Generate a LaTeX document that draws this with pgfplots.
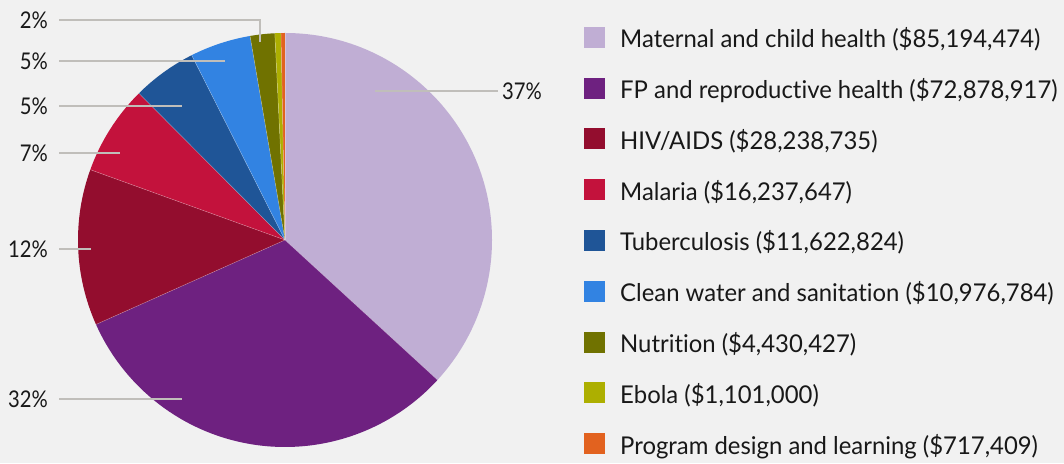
\documentclass[border=0pt]{standalone}
\usepackage{fontspec}
\setmainfont{Lato}[Ligatures=NoCommon]
\newfontfamily\legfont{Lato}[FakeStretch=0.975, Ligatures=NoCommon]
\newfontfamily\pctfont{Lato}[FakeStretch=0.88, Ligatures=NoCommon]
\usepackage{pgfplots}
\usepackage{pgfplotstable}
\pgfplotsset{compat=1.18}

\definecolor{bg}{RGB}{241,241,241}
\definecolor{lead}{RGB}{192,190,186}
\definecolor{txt}{RGB}{24,24,24}
\definecolor{c0}{RGB}{192,174,212}
\definecolor{c1}{RGB}{110,33,128}
\definecolor{c2}{RGB}{147,13,46}
\definecolor{c3}{RGB}{195,18,60}
\definecolor{c4}{RGB}{31,85,151}
\definecolor{c5}{RGB}{50,131,226}
\definecolor{c6}{RGB}{112,114,0}
\definecolor{c7}{RGB}{173,175,0}
\definecolor{c8}{RGB}{226,98,31}

% spending by area, in dollars
\pgfplotstableread{
id amount
0 85194474
1 72878917
2 28238735
3 16237647
4 11622824
5 10976784
6 4430427
7 1101000
8 717409
}\budget

% cumulative angles, clockwise from 12 o'clock
\xdef\total{0}
\foreach \i in {0,...,8}{%
  \pgfplotstablegetelem{\i}{amount}\of\budget
  \xdef\total{\fpeval{\total+\pgfplotsretval}}%
}
\xdef\cum{0}
\foreach \i in {0,...,8}{%
  \pgfplotstablegetelem{\i}{amount}\of\budget
  \expandafter\xdef\csname sA\i\endcsname{\fpeval{90-360*\cum/\total}}%
  \xdef\cum{\fpeval{\cum+\pgfplotsretval}}%
  \expandafter\xdef\csname sB\i\endcsname{\fpeval{90-360*\cum/\total}}%
}

\begin{document}
\begin{tikzpicture}
\begin{axis}[
  width=1064bp, height=463bp, scale only axis,
  xmin=0, xmax=1064, ymin=0, ymax=463,
  hide axis, clip=false,
]
\fill[bg] (axis cs:0,0) rectangle (axis cs:1064,463);
\coordinate (ll) at (axis cs:0,0);
\coordinate (ur) at (axis cs:1064,463);

% wedges
\pgfplotsinvokeforeach{0,...,8}{
  \fill[c#1] (axis cs:285,223) -- ++(\csname sA#1\endcsname:207bp)
    arc[start angle=\csname sA#1\endcsname, end angle=\csname sB#1\endcsname, radius=207bp] -- cycle;
}
\pgfplotsinvokeforeach{0,...,8}{
  \draw[white, draw opacity=0.35, line width=0.5bp] (axis cs:285,223) -- ++(\csname sA#1\endcsname:207bp);
}

% leader lines and percentages
\begin{scope}[lead, line width=1.3bp]
\draw (axis cs:375,372) -- (axis cs:498,372);
\draw (axis cs:59,64) -- (axis cs:182,64);
\draw (axis cs:59,214) -- (axis cs:91,214);
\draw (axis cs:59,310) -- (axis cs:120,310);
\draw (axis cs:59,357) -- (axis cs:182,357);
\draw (axis cs:59,402) -- (axis cs:225,402);
\draw (axis cs:59,443) -- (axis cs:260,443) -- (axis cs:260,421);
\end{scope}
\begin{scope}[every node/.style={txt, inner sep=0pt, font=\pctfont\fontsize{23bp}{25bp}\selectfont}]
\node[anchor=west] at (axis cs:502,372) {37\%};
\node[anchor=east] at (axis cs:48,64) {32\%};
\node[anchor=east] at (axis cs:48,214) {12\%};
\node[anchor=east] at (axis cs:48,310) {7\%};
\node[anchor=east] at (axis cs:48,357) {5\%};
\node[anchor=east] at (axis cs:48,402) {5\%};
\node[anchor=east] at (axis cs:48,443) {2\%};
\end{scope}

% legend
\pgfplotsinvokeforeach{0,...,8}{
  \fill[c#1] (axis cs:584,{415-50.75*#1}) rectangle (axis cs:605,{436-50.75*#1});
}
\begin{scope}[every node/.style={txt, inner sep=0pt, anchor=base west, font=\legfont\fontsize{24.5bp}{26bp}\selectfont}]
\node at (axis cs:620,{415-50.75*0}) {Maternal and child health (\$85,194,474)};
\node at (axis cs:620,{415-50.75*1}) {FP and reproductive health (\$72,878,917)};
\node at (axis cs:620,{415-50.75*2}) {HIV/AIDS (\$28,238,735)};
\node at (axis cs:620,{415-50.75*3}) {Malaria (\$16,237,647)};
\node at (axis cs:620,{415-50.75*4}) {Tuberculosis (\$11,622,824)};
\node at (axis cs:620,{415-50.75*5}) {Clean water and sanitation (\$10,976,784)};
\node at (axis cs:620,{415-50.75*6}) {Nutrition (\$4,430,427)};
\node at (axis cs:620,{415-50.75*7}) {Ebola (\$1,101,000)};
\node at (axis cs:620,{415-50.75*8}) {Program design and learning (\$717,409)};
\end{scope}
\end{axis}
\pgfresetboundingbox
\useasboundingbox (ll) rectangle (ur);
\end{tikzpicture}
\end{document}
